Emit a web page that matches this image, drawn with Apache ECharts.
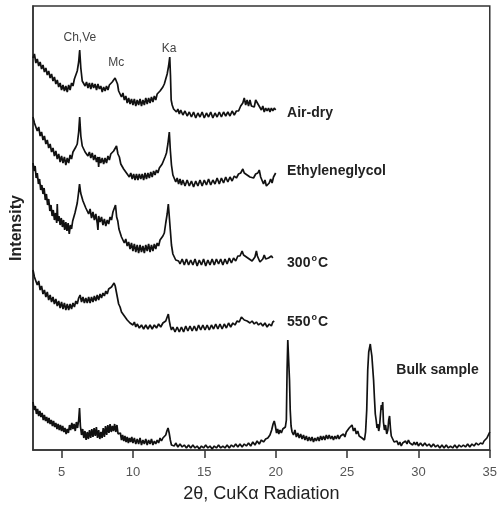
<!DOCTYPE html>
<html>
<head>
<meta charset="utf-8">
<script src="https://cdn.jsdelivr.net/npm/echarts@6/dist/echarts.min.js"></script>
<style>html,body{margin:0;padding:0;background:#fff}#c{width:500px;height:508px}</style>
</head>
<body>
<div id="c"></div>
<script>
// Tick labels on the 2θ axis
var xTicks = [5, 10, 15, 20, 25, 30, 35];

// Series names
var seriesNames = ['Air-dry', 'Ethyleneglycol', '300ºC', '550ºC', 'Bulk sample'];

// Peak annotations
var peakNames = ['Ch,Ve', 'Mc', 'Ka'];
var peakAngles = [6.28, 8.84, 12.54];

// Traces: [2θ, intensity (offset, arbitrary units)]
var airDry = [[3.0,392],[3.1,396],[3.2,387],[3.3,391],[3.4,384],[3.5,388],[3.6,381],[3.7,385],[3.8,378],[3.9,382],[4.0,375],[4.1,379],[4.2,372],[4.3,376],[4.4,369],[4.5,373],[4.6,366],[4.7,370],[4.8,363],[4.9,367],[5.0,360],[5.1,365],[5.2,359],[5.3,364],[5.4,358],[5.5,365],[5.6,360],[5.7,367],[5.8,364],[5.9,371],[6.0,371],[6.1,379],[6.2,388],[6.27,400],[6.35,382],[6.45,369],[6.55,368],[6.65,364],[6.75,368],[6.85,362],[6.95,367],[7.05,361],[7.15,367],[7.25,362],[7.35,366],[7.45,360],[7.55,366],[7.65,361],[7.75,364],[7.85,358],[7.95,363],[8.05,359],[8.15,364],[8.25,360],[8.35,365],[8.45,363],[8.55,368],[8.65,368],[8.75,372],[8.83,374],[8.92,366],[9.0,359],[9.1,358],[9.2,353],[9.3,357],[9.4,350],[9.5,354],[9.6,347],[9.7,352],[9.8,346],[9.9,351],[10.0,345],[10.1,351],[10.2,344],[10.3,350],[10.4,345],[10.5,351],[10.6,344],[10.7,350],[10.8,345],[10.9,352],[11.0,346],[11.1,352],[11.2,347],[11.3,353],[11.4,348],[11.5,354],[11.6,350],[11.7,356],[11.8,354],[11.9,359],[12.0,359],[12.1,363],[12.2,366],[12.3,371],[12.4,376],[12.5,384],[12.58,393],[12.63,375],[12.68,350],[12.75,345],[12.85,341],[12.95,342],[13.05,338],[13.15,341],[13.25,336],[13.35,340],[13.5,335],[13.65,339],[13.8,334],[13.95,338],[14.1,333],[14.25,338],[14.4,332],[14.55,337],[14.7,333],[14.85,338],[15.0,332],[15.15,337],[15.3,333],[15.45,338],[15.6,332],[15.75,337],[15.9,333],[16.05,338],[16.2,333],[16.35,338],[16.5,334],[16.65,338],[16.8,334],[16.95,339],[17.1,335],[17.25,339],[17.4,339],[17.55,344],[17.7,347],[17.8,352],[17.9,345],[18.0,350],[18.1,344],[18.2,350],[18.3,344],[18.4,346],[18.5,343],[18.6,350],[18.7,351],[18.8,345],[18.9,345],[19.0,340],[19.1,344],[19.2,338],[19.3,342],[19.4,339],[19.5,342],[19.6,338],[19.7,342],[19.8,339],[19.9,342],[20.0,340]];

var ethyleneGlycol = [[3.0,333],[3.1,327],[3.2,327],[3.3,319],[3.4,323],[3.5,314],[3.6,318],[3.7,310],[3.8,314],[3.9,306],[4.0,310],[4.1,302],[4.2,306],[4.3,298],[4.4,302],[4.5,294],[4.6,299],[4.7,291],[4.8,296],[4.9,288],[5.0,294],[5.1,287],[5.2,293],[5.3,285],[5.4,292],[5.5,287],[5.6,295],[5.7,291],[5.8,298],[5.9,296],[6.0,303],[6.1,306],[6.2,318],[6.27,333],[6.35,314],[6.45,304],[6.55,301],[6.65,298],[6.75,299],[6.85,294],[6.95,298],[7.05,292],[7.15,297],[7.25,290],[7.35,295],[7.45,288],[7.55,293],[7.6,283],[7.65,293],[7.75,287],[7.85,292],[7.95,286],[8.05,292],[8.15,287],[8.25,294],[8.35,290],[8.45,296],[8.55,294],[8.65,299],[8.75,299],[8.85,304],[8.95,296],[9.05,293],[9.15,286],[9.25,286],[9.35,281],[9.45,281],[9.55,277],[9.65,278],[9.75,273],[9.85,277],[9.95,271],[10.05,276],[10.15,270],[10.25,276],[10.35,270],[10.45,276],[10.55,271],[10.65,276],[10.75,270],[10.85,277],[10.95,271],[11.05,277],[11.15,272],[11.25,278],[11.35,273],[11.45,279],[11.55,275],[11.65,280],[11.75,277],[11.85,282],[11.95,281],[12.05,286],[12.15,287],[12.25,293],[12.35,297],[12.45,306],[12.55,318],[12.62,300],[12.7,285],[12.8,275],[12.9,273],[13.0,268],[13.1,272],[13.2,266],[13.3,271],[13.4,265],[13.5,270],[13.65,264],[13.8,270],[13.95,264],[14.1,269],[14.25,263],[14.4,269],[14.55,264],[14.7,270],[14.85,264],[15.0,270],[15.15,265],[15.3,271],[15.45,265],[15.6,270],[15.75,266],[15.9,272],[16.05,266],[16.2,272],[16.35,267],[16.5,273],[16.65,268],[16.8,273],[16.95,269],[17.1,274],[17.25,272],[17.4,276],[17.55,277],[17.7,281],[17.8,277],[17.9,277],[18.0,275],[18.1,276],[18.2,273],[18.3,275],[18.45,272],[18.6,276],[18.75,277],[18.85,280],[18.95,273],[19.05,271],[19.15,266],[19.25,270],[19.35,264],[19.45,262],[19.55,267],[19.65,271],[19.75,267],[19.85,273],[20.0,277]];

var heated300 = [[3.0,287],[3.08,279],[3.15,284],[3.22,272],[3.3,277],[3.38,266],[3.46,271],[3.54,260],[3.62,265],[3.7,256],[3.78,262],[3.86,250],[3.94,256],[4.02,245],[4.1,251],[4.18,239],[4.26,245],[4.34,234],[4.42,240],[4.5,230],[4.58,237],[4.66,227],[4.7,246],[4.74,229],[4.82,234],[4.9,225],[4.98,232],[5.06,223],[5.14,230],[5.22,220],[5.3,228],[5.38,219],[5.46,227],[5.54,216],[5.62,225],[5.7,221],[5.78,229],[5.86,229],[5.94,237],[6.02,239],[6.1,247],[6.18,256],[6.26,266],[6.34,257],[6.42,255],[6.5,249],[6.6,249],[6.7,242],[6.8,243],[6.9,236],[7.0,241],[7.1,232],[7.2,238],[7.3,230],[7.4,236],[7.5,227],[7.55,220],[7.6,234],[7.7,228],[7.8,233],[7.9,225],[8.0,231],[8.1,224],[8.2,230],[8.3,226],[8.4,233],[8.5,230],[8.6,238],[8.7,239],[8.78,245],[8.86,233],[8.94,229],[9.02,221],[9.1,220],[9.2,213],[9.3,214],[9.4,207],[9.5,211],[9.6,204],[9.7,208],[9.8,201],[9.9,207],[10.0,199],[10.1,206],[10.2,198],[10.3,205],[10.4,197],[10.5,205],[10.6,198],[10.7,204],[10.8,197],[10.9,205],[11.0,199],[11.1,206],[11.2,198],[11.3,205],[11.4,199],[11.5,206],[11.6,201],[11.7,207],[11.8,204],[11.9,210],[12.0,208],[12.1,214],[12.2,217],[12.3,227],[12.4,236],[12.48,246],[12.55,248],[12.62,220],[12.7,205],[12.8,196],[12.9,194],[13.0,190],[13.1,191],[13.2,189],[13.3,186],[13.45,191],[13.6,185],[13.75,191],[13.9,185],[14.05,190],[14.2,185],[14.35,191],[14.5,184],[14.65,190],[14.8,185],[14.95,191],[15.1,184],[15.25,190],[15.4,185],[15.55,191],[15.7,185],[15.85,191],[16.0,186],[16.15,191],[16.3,185],[16.45,191],[16.6,186],[16.75,192],[16.9,187],[17.05,192],[17.2,189],[17.35,194],[17.5,194],[17.65,199],[17.75,195],[17.85,195],[17.95,193],[18.05,193],[18.15,191],[18.25,191],[18.35,189],[18.45,191],[18.55,193],[18.65,199],[18.72,194],[18.8,192],[18.9,188],[19.0,189],[19.1,191],[19.2,195],[19.3,191],[19.4,192],[19.5,192],[19.6,191],[19.7,194],[19.8,192]];

var heated550 = [[3.0,180],[3.1,173],[3.2,173],[3.3,165],[3.4,169],[3.5,160],[3.6,164],[3.7,156],[3.8,160],[3.9,153],[4.0,158],[4.1,150],[4.2,155],[4.3,148],[4.4,153],[4.5,146],[4.6,151],[4.7,144],[4.8,149],[4.9,142],[5.0,148],[5.1,141],[5.2,147],[5.3,140],[5.4,146],[5.5,140],[5.6,146],[5.7,141],[5.8,147],[5.9,143],[6.0,149],[6.1,146],[6.2,152],[6.3,155],[6.4,148],[6.5,153],[6.6,147],[6.7,152],[6.8,147],[6.9,153],[7.0,147],[7.1,153],[7.2,148],[7.3,154],[7.4,149],[7.5,155],[7.6,150],[7.7,156],[7.8,152],[7.9,157],[8.0,154],[8.1,159],[8.2,156],[8.3,161],[8.4,159],[8.5,163],[8.6,162],[8.68,167],[8.76,164],[8.84,158],[8.92,152],[9.0,146],[9.1,143],[9.2,138],[9.3,138],[9.4,134],[9.5,134],[9.6,130],[9.7,131],[9.8,127],[9.9,129],[10.0,125],[10.1,128],[10.2,123],[10.3,126],[10.45,122],[10.6,125],[10.75,121],[10.9,125],[11.05,121],[11.2,125],[11.35,121],[11.5,125],[11.65,122],[11.8,126],[11.95,123],[12.1,127],[12.2,125],[12.3,129],[12.4,130],[12.48,136],[12.55,129],[12.62,124],[12.7,120],[12.8,123],[12.95,118],[13.1,123],[13.25,118],[13.4,123],[13.55,118],[13.7,124],[13.85,119],[14.0,124],[14.15,119],[14.3,124],[14.45,119],[14.6,125],[14.75,120],[14.9,125],[15.05,120],[15.2,125],[15.35,120],[15.5,125],[15.65,121],[15.8,126],[15.95,121],[16.1,126],[16.25,121],[16.4,126],[16.55,122],[16.7,127],[16.85,123],[17.0,127],[17.15,125],[17.3,129],[17.45,128],[17.6,133],[17.7,134],[17.8,130],[17.9,131],[18.0,129],[18.1,129],[18.2,127],[18.35,129],[18.5,126],[18.65,128],[18.8,125],[18.95,127],[19.1,124],[19.25,127],[19.4,123],[19.55,126],[19.7,124],[19.8,128],[19.9,129]];

var bulkSample = [[3.0,48],[3.08,40],[3.16,44],[3.24,36],[3.32,41],[3.4,34],[3.48,39],[3.56,33],[3.64,37],[3.72,30],[3.8,35],[3.88,29],[3.96,33],[4.04,27],[4.12,32],[4.2,26],[4.28,30],[4.36,24],[4.44,29],[4.52,23],[4.6,27],[4.68,21],[4.76,26],[4.84,20],[4.92,25],[5.0,19],[5.08,24],[5.16,18],[5.24,22],[5.32,16],[5.4,21],[5.48,17],[5.56,25],[5.64,20],[5.72,27],[5.8,21],[5.88,26],[5.96,19],[6.04,28],[6.12,22],[6.2,30],[6.26,42],[6.32,24],[6.4,15],[6.48,21],[6.56,12],[6.64,19],[6.72,10],[6.8,18],[6.88,11],[6.96,20],[7.04,12],[7.12,21],[7.2,13],[7.28,22],[7.36,14],[7.44,23],[7.52,12],[7.6,20],[7.68,11],[7.76,18],[7.84,12],[7.92,22],[8.0,13],[8.08,24],[8.16,15],[8.24,25],[8.32,17],[8.4,26],[8.48,18],[8.56,24],[8.64,19],[8.72,26],[8.8,18],[8.88,25],[8.96,16],[9.04,14],[9.12,17],[9.2,10],[9.28,15],[9.36,9],[9.44,14],[9.52,8],[9.6,13],[9.68,7],[9.76,12],[9.84,8],[9.92,13],[10.0,7],[10.1,12],[10.2,6],[10.3,11],[10.4,6],[10.5,12],[10.6,5],[10.7,10],[10.8,6],[10.9,11],[11.0,5],[11.1,10],[11.2,6],[11.3,11],[11.4,5],[11.5,9],[11.6,6],[11.7,10],[11.8,7],[11.9,12],[12.0,9],[12.1,12],[12.2,11],[12.3,15],[12.38,19],[12.46,22],[12.54,17],[12.62,10],[12.7,5],[12.8,7],[12.9,4],[13.0,7],[13.15,3],[13.3,6],[13.45,3],[13.6,5],[13.75,2],[13.9,5],[14.05,2],[14.2,5],[14.35,2],[14.5,4],[14.65,1],[14.8,4],[14.95,2],[15.1,5],[15.25,2],[15.4,4],[15.55,1],[15.7,4],[15.85,2],[16.0,5],[16.15,2],[16.3,4],[16.45,2],[16.6,5],[16.75,2],[16.9,5],[17.05,3],[17.2,6],[17.35,3],[17.5,6],[17.65,3],[17.8,6],[17.95,4],[18.1,7],[18.25,4],[18.4,8],[18.55,5],[18.7,9],[18.85,6],[19.0,10],[19.15,8],[19.3,11],[19.45,12],[19.6,15],[19.72,20],[19.82,26],[19.9,29],[19.98,24],[20.06,17],[20.14,21],[20.22,16],[20.3,20],[20.4,17],[20.5,21],[20.6,19],[20.68,23],[20.75,30],[20.8,80],[20.85,110],[20.92,108],[20.97,70],[21.02,40],[21.08,24],[21.15,18],[21.25,15],[21.35,20],[21.45,13],[21.55,17],[21.65,12],[21.75,16],[21.85,11],[21.95,15],[22.05,10],[22.15,14],[22.25,9],[22.35,13],[22.45,9],[22.55,13],[22.65,8],[22.75,12],[22.85,9],[22.95,13],[23.05,9],[23.15,14],[23.25,10],[23.35,14],[23.45,10],[23.55,15],[23.65,11],[23.75,15],[23.85,11],[23.95,14],[24.05,10],[24.15,14],[24.25,11],[24.35,15],[24.45,11],[24.55,14],[24.65,12],[24.75,16],[24.85,13],[24.95,18],[25.05,17],[25.15,22],[25.25,20],[25.35,25],[25.45,19],[25.55,22],[25.65,16],[25.75,19],[25.85,14],[25.95,16],[26.05,12],[26.15,13],[26.22,10],[26.3,18],[26.38,40],[26.45,80],[26.52,98],[26.58,96],[26.63,106],[26.68,100],[26.74,94],[26.8,92],[26.86,70],[26.92,52],[26.98,36],[27.04,30],[27.1,22],[27.16,26],[27.22,19],[27.28,24],[27.34,35],[27.4,45],[27.45,40],[27.5,48],[27.55,28],[27.62,20],[27.7,25],[27.78,16],[27.86,20],[27.92,30],[27.98,34],[28.04,22],[28.1,14],[28.2,12],[28.3,8],[28.4,6],[28.5,9],[28.6,5],[28.7,8],[28.8,4],[28.9,7],[29.0,5],[29.1,9],[29.2,6],[29.3,10],[29.4,7],[29.5,9],[29.6,5],[29.7,8],[29.8,5],[29.9,8],[30.0,4],[30.15,7],[30.3,4],[30.45,7],[30.6,4],[30.75,6],[30.9,3],[31.05,6],[31.2,3],[31.35,5],[31.5,2],[31.65,5],[31.8,2],[31.95,5],[32.1,2],[32.25,4],[32.4,2],[32.55,5],[32.7,2],[32.85,5],[33.0,3],[33.15,5],[33.3,3],[33.45,6],[33.6,3],[33.75,6],[33.9,4],[34.05,7],[34.2,5],[34.35,7],[34.5,6],[34.6,9],[34.7,8],[34.8,12],[34.9,15],[35.0,18]];

var traces = [airDry, ethyleneGlycol, heated300, heated550, bulkSample];

var FONT = '"Liberation Sans", Arial, sans-serif';
var chart = echarts.init(document.getElementById('c'), null, {renderer: 'canvas'});

// label anchor positions (in axis units)
var nameAnchors = [[20.8, 337], [20.8, 279], [20.8, 187], [20.8, 128], [28.45, 80]];
var peakLabelY = [412, 387, 401];

var nameLabelStyle = {
  show: true, position: 'inside', align: 'left', verticalAlign: 'middle',
  fontFamily: FONT, fontSize: 14, fontWeight: 'bold', color: '#222',
  rich: {
    a: {fontFamily: FONT, fontSize: 14, fontWeight: 'bold', color: '#222', lineHeight: 17},
    s: {fontFamily: FONT, fontSize: 9, fontWeight: 'bold', color: '#222', lineHeight: 17, verticalAlign: 'top', padding: [0, 1, 6, 1]}
  }
};

function nameText(n) {
  var m = n.match(/^(\d+)º(C)$/);
  if (m) return '{a|' + m[1] + '}{s|o}{a|' + m[2] + '}';
  return n;
}

var series = traces.map(function (d, i) {
  var mp = [{
    coord: nameAnchors[i],
    label: Object.assign({}, nameLabelStyle, {formatter: nameText(seriesNames[i])})
  }];
  if (i === 0) {
    peakNames.forEach(function (p, k) {
      mp.push({
        coord: [peakAngles[k], peakLabelY[k]],
        label: {show: true, position: 'inside', align: 'center', verticalAlign: 'middle',
          formatter: p, fontFamily: FONT, fontSize: 12, color: '#444'}
      });
    });
  }
  return {
    name: seriesNames[i],
    type: 'line',
    data: d,
    showSymbol: false,
    symbol: 'none',
    lineStyle: {color: '#111', width: 1.7},
    silent: true,
    markPoint: {symbol: 'circle', symbolSize: 0, silent: true, data: mp, animation: false}
  };
});

chart.setOption({
  animation: false,
  backgroundColor: '#fff',
  grid: {left: 33, top: 6, right: 8, bottom: 58, show: true, borderColor: '#333', borderWidth: 1.5, containLabel: false},
  xAxis: {
    type: 'value', min: 3, max: 35,
    name: '2θ, CuKα Radiation', nameLocation: 'middle', nameGap: 35,
    nameTextStyle: {fontFamily: FONT, fontSize: 18, color: '#222'},
    axisLine: {show: true, onZero: false, lineStyle: {color: '#333', width: 1.5}},
    axisTick: {show: true, customValues: xTicks, length: 8, inside: false, lineStyle: {color: '#333', width: 1.5}},
    axisLabel: {show: true, customValues: xTicks, margin: 16, fontFamily: FONT, fontSize: 13, color: '#555'},
    splitLine: {show: false}
  },
  yAxis: {
    type: 'value', min: 0, max: 444,
    name: 'Intensity', nameLocation: 'middle', nameGap: 8,
    nameTextStyle: {fontFamily: FONT, fontSize: 16, fontWeight: 'bold', color: '#222'},
    axisLine: {show: true, lineStyle: {color: '#333', width: 1.5}},
    axisTick: {show: false}, axisLabel: {show: false}, splitLine: {show: false}
  },
  series: series
});
</script>
</body>
</html>
